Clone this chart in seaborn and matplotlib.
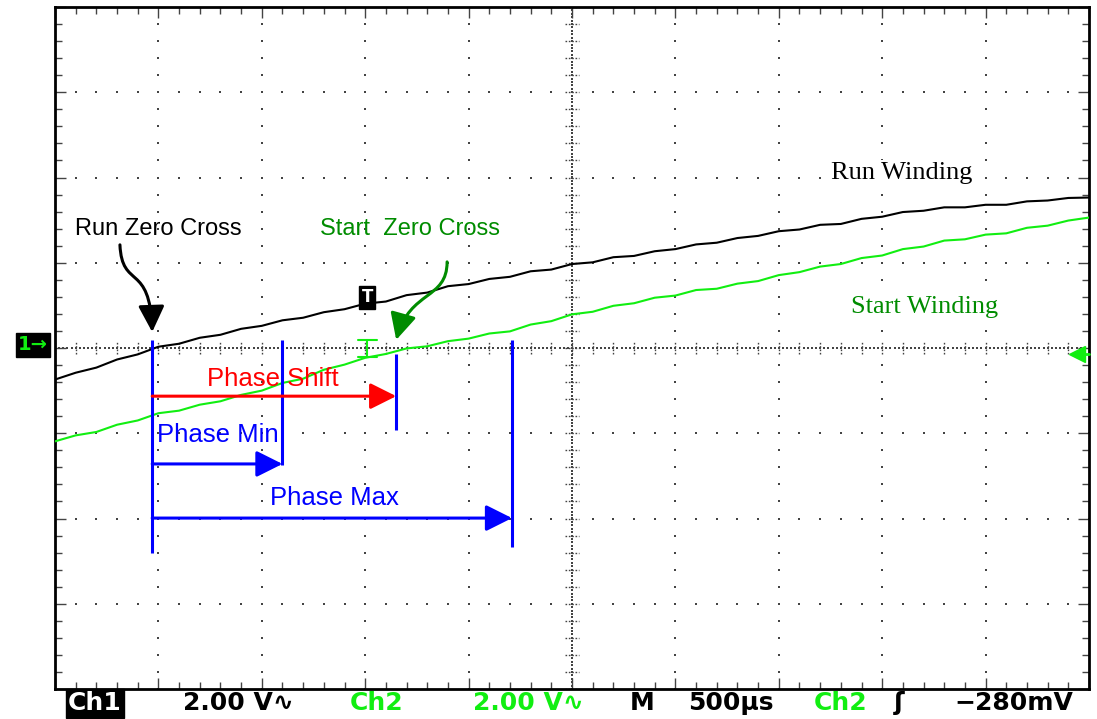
import numpy as np
import pandas as pd
import matplotlib
matplotlib.use("Agg")
import matplotlib.pyplot as plt
from matplotlib.path import Path
from matplotlib.patches import FancyArrowPatch
import seaborn as sns

# ---- scope capture: 500 us/div, 2 V/div, 10 x 8 divisions ----
time_ms = np.linspace(-2.5, 2.5, 51)

run_v = [-0.74, -0.58, -0.46, -0.27, -0.15, 0.03, 0.10, 0.24, 0.31, 0.45,
         0.52, 0.65, 0.71, 0.84, 0.91, 1.04, 1.09, 1.24, 1.30, 1.45,
         1.50, 1.62, 1.67, 1.80, 1.84, 1.97, 2.01, 2.13, 2.16, 2.27,
         2.32, 2.43, 2.47, 2.58, 2.63, 2.74, 2.78, 2.89, 2.91, 3.03,
         3.08, 3.19, 3.22, 3.30, 3.30, 3.36, 3.36, 3.44, 3.46, 3.52, 3.53]

start_v = [-2.19, -2.05, -1.97, -1.80, -1.70, -1.53, -1.47, -1.33, -1.25, -1.10,
           -1.00, -0.82, -0.72, -0.51, -0.39, -0.23, -0.14, -0.01, 0.04, 0.16,
           0.22, 0.34, 0.39, 0.55, 0.63, 0.79, 0.85, 0.99, 1.05, 1.18,
           1.23, 1.36, 1.39, 1.51, 1.57, 1.71, 1.78, 1.91, 1.97, 2.11,
           2.17, 2.32, 2.38, 2.52, 2.55, 2.66, 2.69, 2.82, 2.87, 2.99, 3.06]

# timing markers (ms)
run_zero_ms = -2.03      # run winding zero crossing
phase_min_ms = 0.63      # minimum allowed phase delay
phase_shift_ms = 1.18    # measured phase delay to start zero crossing
phase_max_ms = 1.74      # maximum allowed phase delay
trigger_ms = -0.99
trigger_level_v = -0.14

status_items = ["Ch1", "2.00 V\u223f", "Ch2", "2.00 V\u223f", "M", "500\u00b5s", "Ch2", "\u0283", "\u2212280mV"]
status_colors = ["white", "black", "#11ee11", "#11ee11", "black", "black", "#11ee11", "black", "black"]
status_xpix = [95, 238, 377, 528, 642, 731, 841, 899, 1014]

TRACE_GREEN = "#11ee11"
LABEL_GREEN = "#008c00"
GRID_C = "#444444"

sns.set_style("white")
plt.rcParams["font.family"] = ["DejaVu Sans"]

W, H = 1097, 719
fig = plt.figure(figsize=(W / 100, H / 100), dpi=100)
ax = fig.add_axes([55 / W, 1 - 689 / H, 1034 / W, 682 / H])
ax.set_xlim(-2.5, 2.5)
ax.set_ylim(-8, 8)

# ---- graticule ----
x_minor = np.round(np.arange(-2.5, 2.5001, 0.1), 3)
y_minor = np.round(np.arange(-8, 8.001, 0.4), 3)
x_major = np.round(np.arange(-2.0, 2.001, 0.5), 3)
y_major = np.round(np.arange(-6, 6.001, 2), 3)

for xv in x_major:
    if abs(xv) > 1e-9:
        ax.scatter(np.full(len(y_minor), xv), y_minor, s=2.2, c=GRID_C, marker="s", lw=0, zorder=1)
for yv in y_major:
    if abs(yv) > 1e-9:
        ax.scatter(x_minor, np.full(len(x_minor), yv), s=2.2, c=GRID_C, marker="s", lw=0, zorder=1)

cx = np.arange(-2.5, 2.5, 0.02)
cy = np.arange(-8, 8, 0.08)
ax.scatter(cx, np.zeros_like(cx), s=1.6, c=GRID_C, marker="s", lw=0, zorder=1)
ax.scatter(np.zeros_like(cy), cy, s=1.6, c=GRID_C, marker="s", lw=0, zorder=1)
ax.vlines(x_minor, -0.14, 0.14, color=GRID_C, lw=1.0, linestyle=(0, (1.2, 1.2)), zorder=1)
ax.hlines(y_minor, -0.032, 0.032, color=GRID_C, lw=1.0, linestyle=(0, (1.2, 1.2)), zorder=1)

ax.set_xticks(x_major.tolist() + [-2.5, 2.5])
ax.set_xticks(x_minor, minor=True)
ax.set_yticks(y_major.tolist() + [-8, 8])
ax.set_yticks(y_minor, minor=True)
ax.tick_params(which="both", direction="in", top=True, right=True, bottom=True, left=True,
               labelbottom=False, labelleft=False, color=GRID_C, width=1.0)
ax.tick_params(which="major", length=8)
ax.tick_params(which="minor", length=5)
for sp in ax.spines.values():
    sp.set_color("black")
    sp.set_linewidth(2.0)

# ---- traces ----
df = pd.DataFrame({"t": time_ms, "run": run_v, "start": start_v})
sns.lineplot(data=df, x="t", y="run", color="black", lw=1.5, ax=ax, estimator=None, sort=False, zorder=3)
sns.lineplot(data=df, x="t", y="start", color=TRACE_GREEN, lw=1.5, ax=ax, estimator=None, sort=False, zorder=3)
ax.set_xlabel("")
ax.set_ylabel("")

# ---- phase window markers ----
BLUE = "#0000ff"
t_min = run_zero_ms + phase_min_ms
t_shift = run_zero_ms + phase_shift_ms
t_max = run_zero_ms + phase_max_ms
ax.vlines([run_zero_ms], -4.81, 0.19, color=BLUE, lw=2.2, zorder=4)
ax.vlines([t_min], -2.75, 0.19, color=BLUE, lw=2.2, zorder=4)
ax.vlines([t_shift], -1.92, -0.14, color=BLUE, lw=2.2, zorder=4)
ax.vlines([t_max], -4.67, 0.19, color=BLUE, lw=2.2, zorder=4)

head = "-|>,head_length=0.8,head_width=0.4"


def span_arrow(t_end, y, color):
    ax.annotate("", xy=(t_end, y), xytext=(run_zero_ms, y),
                arrowprops=dict(arrowstyle=head, mutation_scale=20, lw=2.2, color=color,
                                shrinkA=0, shrinkB=0), zorder=5)


span_arrow(t_shift, -1.13, "#ff0000")
span_arrow(t_min, -2.72, BLUE)
span_arrow(t_max, -3.99, BLUE)

ax.text(-1.765, -0.73, "Phase Shift", color="#ff0000", fontsize=18.5, family="Liberation Sans",
        ha="left", va="center", zorder=6)
ax.text(-2.007, -2.04, "Phase Min", color=BLUE, fontsize=18.5, family="Liberation Sans",
        ha="left", va="center", zorder=6)
ax.text(-1.460, -3.52, "Phase Max", color=BLUE, fontsize=18.5, family="Liberation Sans",
        ha="left", va="center", zorder=6)

# ---- zero-cross callouts ----
ax.text(-2.403, 2.79, "Run Zero Cross", color="black", fontsize=17, family="Liberation Sans",
        ha="left", va="center", zorder=6)
ax.text(-1.219, 2.79, "Start  Zero Cross", color=LABEL_GREEN, fontsize=17, family="Liberation Sans",
        ha="left", va="center", zorder=6)

codes = [Path.MOVETO, Path.CURVE4, Path.CURVE4, Path.CURVE4]
run_curve = Path([(-2.186, 2.42), (-2.176, 1.36), (-2.041, 2.02), (run_zero_ms, 0.375)], codes)
start_curve = Path([(-0.604, 2.02), (-0.604, 1.13), (-0.783, 1.36), (t_shift, 0.19)], codes)
for pth, col in ((run_curve, "black"), (start_curve, LABEL_GREEN)):
    ax.add_patch(FancyArrowPatch(path=pth, arrowstyle=head, mutation_scale=20, lw=2.2,
                                 color=col, zorder=6))

# ---- trace names (opaque so the graticule does not show through) ----
name_box = dict(boxstyle="square,pad=0.05", fc="white", ec="none")
ax.text(1.252, 4.11, "Run Winding", color="black", fontsize=19, family="Liberation Serif",
        ha="left", va="center", zorder=6, bbox=name_box)
ax.text(1.349, 0.96, "Start Winding", color=LABEL_GREEN, fontsize=19, family="Liberation Serif",
        ha="left", va="center", zorder=6, bbox=name_box)

# ---- trigger markers ----
ax.text(trigger_ms, 1.19, "T", color="white", fontsize=12, fontweight="bold", ha="center", va="center",
        zorder=7, bbox=dict(boxstyle="square,pad=0.15", fc="black", ec="black"))
ax.plot([trigger_ms, trigger_ms], [-0.21, 0.19], color=TRACE_GREEN, lw=1.5, zorder=5)
ax.plot([trigger_ms - 0.045, trigger_ms + 0.045], [0.19, 0.19], color=TRACE_GREEN, lw=1.5, zorder=5)
ax.plot([trigger_ms - 0.045, trigger_ms + 0.045], [-0.21, -0.21], color=TRACE_GREEN, lw=1.5, zorder=5)
ax.plot([2.44, 2.5], [trigger_level_v, trigger_level_v], color=TRACE_GREEN, lw=2, zorder=7, clip_on=False)
ax.plot([2.44], [trigger_level_v], marker="<", ms=11, color=TRACE_GREEN, mec=TRACE_GREEN, zorder=7,
        clip_on=False)

# channel 1 ground reference tag
fig.text(33 / W, 1 - 345 / H, "1\u2192", color=TRACE_GREEN, fontsize=14, fontweight="bold",
         ha="center", va="center", bbox=dict(boxstyle="square,pad=0.12", fc="black", ec="black"))

# ---- status line ----
for i, (txt, col, xp) in enumerate(zip(status_items, status_colors, status_xpix)):
    kw = {}
    if i == 0:
        kw["bbox"] = dict(boxstyle="square,pad=0.1", fc="black", ec="black")
    fig.text(xp / W, 1 - 703 / H, txt, color=col, fontsize=18, fontweight="bold",
             family=["DejaVu Sans", "DejaVu Sans Mono"], ha="center", va="center", **kw)

fig.savefig("out.png", dpi=100, facecolor="white")
